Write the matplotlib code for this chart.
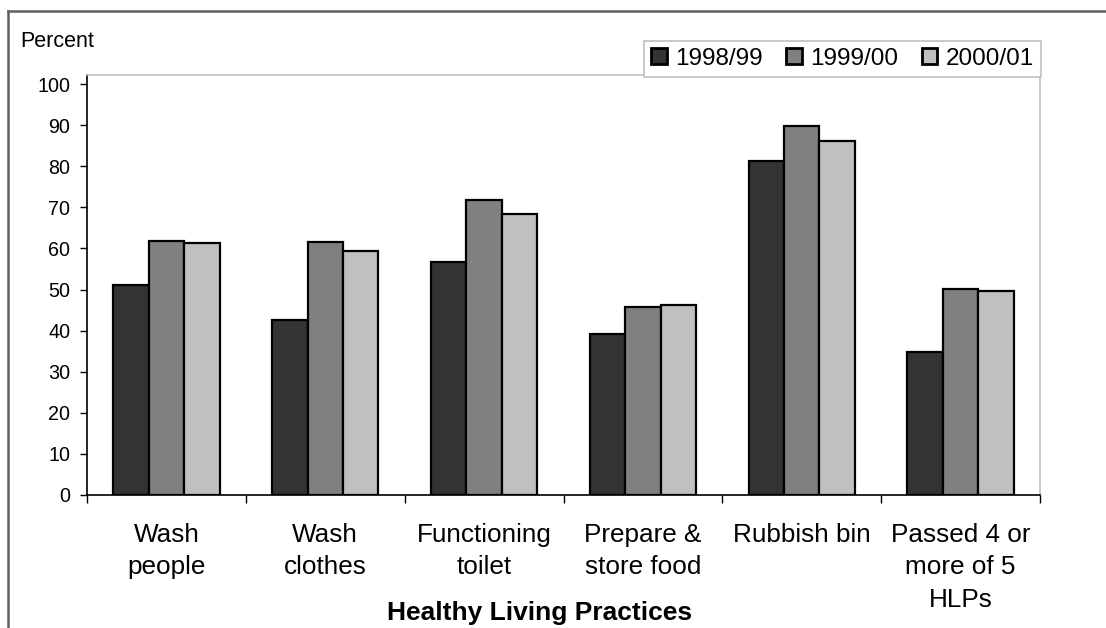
import matplotlib
matplotlib.use("Agg")
import matplotlib.pyplot as plt
import numpy as np
from matplotlib.lines import Line2D

plt.rcParams['font.family'] = ['Liberation Sans', 'DejaVu Sans']

categories = ["Wash\npeople", "Wash\nclothes", "Functioning\ntoilet",
              "Prepare &\nstore food", "Rubbish bin", "Passed 4 or\nmore of 5\nHLPs"]
series_names = ["1998/99", "1999/00", "2000/01"]
v_1998 = [51.2, 42.6, 56.8, 39.2, 81.2, 34.9]
v_1999 = [61.8, 61.5, 71.9, 45.7, 89.7, 50.1]
v_2000 = [61.2, 59.4, 68.3, 46.3, 86.1, 49.6]
colors = ["#333333", "#808080", "#c0c0c0"]
yticks = list(range(0, 101, 10))

W, H = 1106, 628
fig = plt.figure(figsize=(W / 100, H / 100), dpi=100)
ax = fig.add_axes([87 / W, 1 - 495 / H, (1040 - 87) / W, (495 - 75) / H])

x = np.arange(len(categories)) + 0.5
bw = 0.2235
for k, (vals, name, c) in enumerate(zip([v_1998, v_1999, v_2000], series_names, colors)):
    ax.bar(x + (k - 1) * bw, vals, width=bw, color=c, edgecolor="black",
           linewidth=1.6, label=name, zorder=3)

ax.set_xlim(0, len(categories))
ax.set_ylim(0, 102.2)
ax.set_yticks(yticks)
ax.set_yticklabels([str(t) for t in yticks])
ax.tick_params(axis="y", direction="out", length=5, width=1, pad=7, labelsize=14.2)

# boundary ticks between categories, labels centred on groups
ax.set_xticks(np.arange(len(categories) + 1))
ax.set_xticklabels([])
ax.tick_params(axis="x", which="major", direction="out", length=6, width=1)
ax.set_xticks(x, minor=True)
ax.set_xticklabels(categories, minor=True, fontsize=18.8, linespacing=1.45)
ax.tick_params(axis="x", which="minor", length=0, pad=20)

for s in ("left", "bottom"):
    ax.spines[s].set_color("black")
    ax.spines[s].set_linewidth(1.2)
for s in ("top", "right"):
    ax.spines[s].set_color("#c0c0c0")
    ax.spines[s].set_linewidth(1.2)

leg = ax.legend(loc="upper right", bbox_to_anchor=(1041 / W, 1 - 41 / H),
                bbox_transform=fig.transFigure, ncol=3, fontsize=17.5,
                handlelength=0.65, handleheight=0.65, handletextpad=0.35,
                columnspacing=0.95, borderpad=0.28, borderaxespad=0,
                fancybox=False, framealpha=1)
leg.get_frame().set_edgecolor("#c0c0c0")
leg.get_frame().set_linewidth(1.2)
for h in leg.legend_handles:
    h.set_linewidth(2.0)
leg.set_zorder(10)

fig.text(20 / W, 1 - 47 / H, "Percent", fontsize=15.5, va="baseline", ha="left")
fig.text(540 / W, 1 - 620 / H, "Healthy Living Practices", fontsize=19,
         fontweight="bold", va="baseline", ha="center")

# outer chart border
fig.add_artist(Line2D([8 / W, 8 / W], [0, 1 - 11 / H], transform=fig.transFigure,
                      color="#606060", linewidth=1.8))
fig.add_artist(Line2D([8 / W, 1], [1 - 11 / H, 1 - 11 / H], transform=fig.transFigure,
                      color="#606060", linewidth=1.8))

fig.savefig("out.png", dpi=100, facecolor="white")
